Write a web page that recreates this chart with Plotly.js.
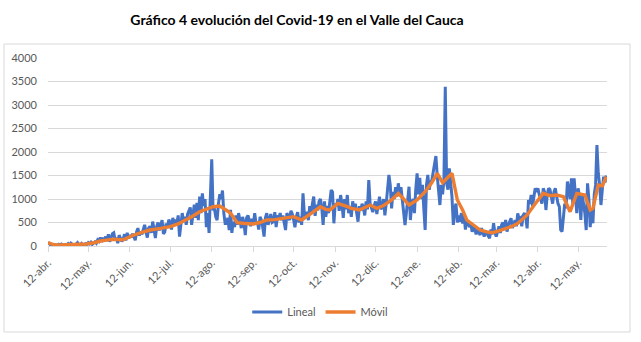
<!DOCTYPE html>
<html>
<head>
<meta charset="utf-8">
<script src="https://cdn.plot.ly/plotly-3.0.1.min.js"></script>
<style>html,body{margin:0;padding:0;background:#fff;}#chart{width:641px;height:342px;}</style>
</head>
<body>
<div id="chart"></div>
<script>
// Daily series "Lineal": day 0 = 12 Apr 2020 ... day 416 = 2 Jun 2021
const startDate = [2020, 3, 12];
const linealValues = [
  80, 40, 20, 30, 10, 25, 15,
  20, 35, 15, 40, 25, 10, 30,
  25, 50, 20, 60, 30, 15, 35,
  40, 70, 30, 25, 55, 20, 45,
  50, 30, 70, 45, 80, 35, 60,
  90, 60, 130, 100, 180, 90, 150,
  140, 200, 110, 250, 90, 170, 260,
  280, 120, 180, 60, 230, 150, 100,
  140, 250, 120, 280, 160, 230, 180,
  260, 200, 120, 300, 380, 220, 310,
  250, 350, 450, 300, 180, 380, 420,
  280, 520, 350, 170, 420, 500, 330,
  450, 550, 260, 300, 480, 400, 560,
  500, 350, 600, 450, 560, 480, 650,
  200, 450, 700, 520, 620, 450, 680,
  750, 820, 450, 700, 880, 600, 920,
  550, 1050, 700, 1120, 850, 1000, 400,
  700, 280, 900, 1845, 760, 800, 620,
  550, 900, 1100, 1000, 1180, 700, 480,
  480, 600, 340, 770, 280, 520, 400,
  650, 450, 700, 550, 380, 620, 500,
  230, 600, 650, 500, 420, 580, 450,
  700, 480, 520, 350, 620, 550, 400,
  200, 600, 700, 450, 550, 680, 500,
  520, 720, 400, 650, 600, 700, 550,
  650, 480, 340, 700, 620, 550, 750,
  680, 560, 400, 620, 720, 500, 620,
  450, 1120, 680, 600, 730, 550, 850,
  720, 900, 1050, 640, 880, 760, 950,
  1000, 800, 447, 950, 620, 850, 700,
  980, 1192, 1150, 483, 900, 850, 1000,
  750, 1085, 900, 600, 1000, 780, 1085,
  700, 850, 620, 950, 780, 900, 700,
  517, 850, 750, 900, 820, 650, 950,
  780, 1404, 900, 800, 720, 850, 950,
  680, 900, 1050, 780, 850, 1000, 650,
  900, 1200, 1511, 1300, 800, 1150, 1000,
  1250, 1050, 1334, 1100, 1250, 950, 600,
  447, 700, 1000, 1262, 553, 900, 1000,
  700, 1200, 1547, 1100, 1450, 1000, 1300,
  800, 340, 1300, 1511, 1200, 1350, 1400,
  1600, 1700, 1915, 1500, 1200, 872, 1300,
  1100, 1400, 3390, 1340, 1200, 1653, 1300,
  1049, 447, 800, 900, 500, 650, 520,
  700, 480, 660, 350, 550, 500, 400,
  490, 300, 420, 360, 250, 350, 280,
  234, 380, 300, 200, 320, 260, 200,
  164, 350, 250, 483, 280, 200, 350,
  420, 277, 450, 500, 380, 553, 305,
  450, 520, 589, 380, 480, 550, 420,
  696, 580, 600, 420, 650, 700, 600,
  376, 979, 900, 1085, 850, 1000, 1228,
  1150, 1228, 1100, 1000, 900, 1228, 1150,
  766, 1100, 1228, 1200, 1050, 900, 1150,
  1228, 1050, 900, 836, 340, 305, 700,
  900, 800, 1370, 1200, 1000, 1440, 900,
  1440, 1100, 700, 1228, 1050, 553, 1100,
  900, 700, 340, 1334, 1000, 400, 800,
  483, 1100, 1300, 2150, 1547, 1300, 872,
  1200, 1475, 1350, 1500
];
// "Móvil" series (day offset from 12 Apr 2020, value)
const movilDays = [0,4,10,20,29,35,39,45,49,56,64,70,76,84,91,97,103,108,113,118,123,128,131,134,136,139,141,147,153,158,163,169,175,183,189,194,198,203,207,210,216,222,226,232,240,245,250,256,261,265,269,275,281,286,290,294,298,301,305,309,312,317,322,327,331,336,340,345,350,357,363,369,374,379,384,389,394,400,404,406,410,413,416];
const movilValues = [70,30,20,25,43,75,106,130,142,130,234,290,340,375,411,470,553,640,730,790,836,850,802,740,696,560,496,480,468,500,553,560,589,624,553,640,730,836,780,766,908,850,800,766,872,802,860,980,1120,1000,872,980,1156,1350,1547,1347,1450,1547,979,760,553,450,340,300,283,320,360,411,480,660,900,1120,1070,1085,1049,730,1120,1085,766,802,1298,1280,1475];
const tickDays = [0,30,61,91,122,153,183,214,244,275,306,334,365,395];
const tickLabels = ["12-abr.","12-may.","12-jun.","12-jul.","12-ago.","12-sep.","12-oct.","12-nov.","12-dic.","12-ene.","12-feb.","12-mar.","12-abr.","12-may."];
const seriesNames = ["Lineal", "Móvil"];

function dayToDate(d) {
  return new Date(Date.UTC(startDate[0], startDate[1], startDate[2] + d)).toISOString().slice(0, 10);
}
const linealDates = linealValues.map((v, i) => dayToDate(i));
const movilDates = movilDays.map(dayToDate);
const tickVals = tickDays.map(dayToDate);

const font = "Lato, 'Liberation Sans', sans-serif";

const traces = [
  {x: linealDates, y: linealValues, type: 'scatter', mode: 'lines', name: seriesNames[0],
   line: {color: '#4472C4', width: 3}},
  {x: movilDates, y: movilValues, type: 'scatter', mode: 'lines', name: seriesNames[1],
   line: {color: '#ED7D31', width: 3.4}}
];

const layout = {
  width: 641, height: 342,
  margin: {l: 48, r: 34, t: 58, b: 96},
  paper_bgcolor: '#ffffff', plot_bgcolor: '#ffffff',
  font: {family: font, size: 11, color: '#595959'},
  title: {text: '<b>Gráfico 4 evolución del Covid-19 en el Valle del Cauca</b>',
          font: {family: font, size: 14, color: '#000000'},
          x: 297/641, xref: 'container', xanchor: 'center',
          y: 1 - 20/342, yref: 'container', yanchor: 'middle'},
  xaxis: {type: 'date', range: [dayToDate(0), '2021-06-02 12:00'],
          tickmode: 'array', tickvals: tickVals, ticktext: tickLabels,
          tickangle: -45, ticks: 'outside', ticklen: 5, tickcolor: '#d9d9d9',
          showgrid: false, showline: true, linecolor: '#d9d9d9', linewidth: 1,
          zeroline: false, tickfont: {size: 11, color: '#595959'}},
  yaxis: {range: [0, 4000], tickvals: [0,500,1000,1500,2000,2500,3000,3500,4000],
          showgrid: true, gridcolor: '#d9d9d9', gridwidth: 1, zeroline: false,
          showline: false, ticks: '', ticklabelstandoff: 10,
          tickfont: {size: 11, color: '#595959'}},
  showlegend: true,
  legend: {orientation: 'h', x: 0.487, xanchor: 'center', y: -0.351, yanchor: 'middle',
           font: {size: 11, color: '#595959'}, itemwidth: 30, tracegroupgap: 0},
  shapes: [{type: 'rect', xref: 'paper', yref: 'paper',
            x0: (4-48)/559, x1: (630-48)/559, y0: (246-332)/188, y1: (246-44)/188,
            line: {color: '#d9d9d9', width: 1}, fillcolor: 'rgba(0,0,0,0)', layer: 'below'}]
};

Plotly.newPlot('chart', traces, layout, {staticPlot: true, displayModeBar: false});
</script>
</body>
</html>
